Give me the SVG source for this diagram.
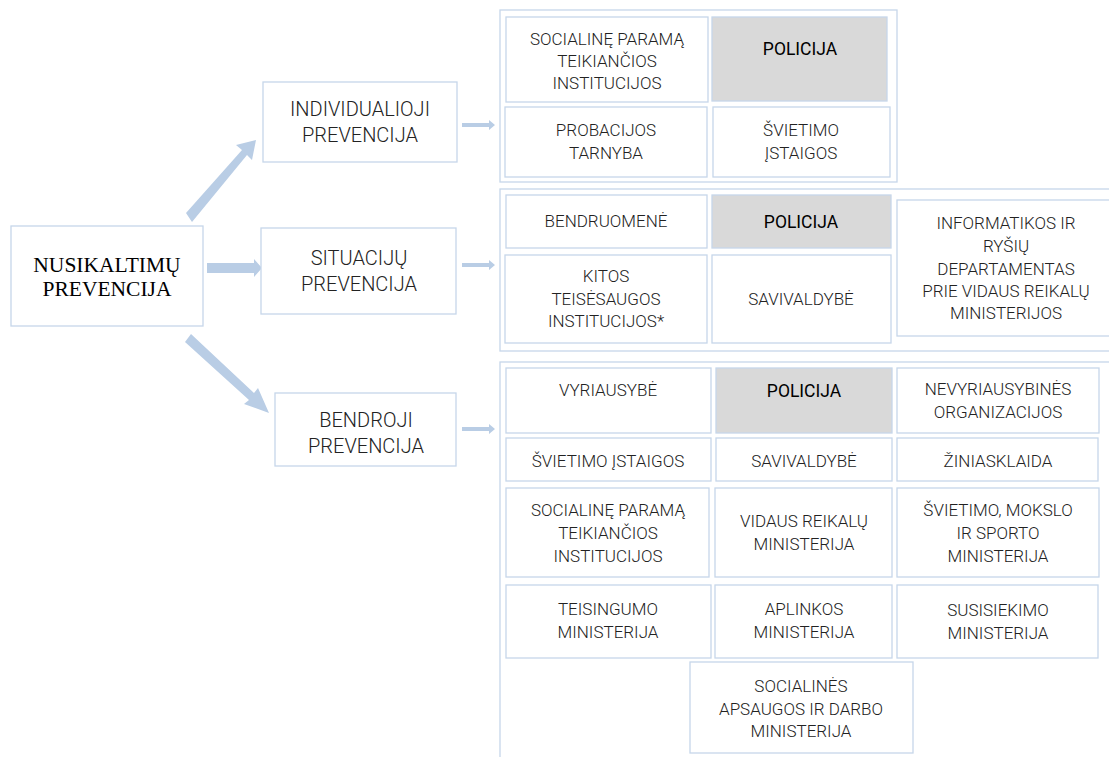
<svg xmlns="http://www.w3.org/2000/svg" width="1109" height="757" viewBox="0 0 1109 757">
<style>
.box{fill:#ffffff;stroke:#c6d6ea;stroke-width:1.3}
.grp{fill:none;stroke:#c6d6ea;stroke-width:1.3}
.gray{fill:#d9d9d9;stroke:#c6d6ea;stroke-width:1.3}
.t{font-family:Roboto,"Noto Sans",sans-serif;font-weight:300;font-size:17px;fill:#222;text-anchor:middle}
.h{font-family:Roboto,"Noto Sans",sans-serif;font-weight:300;font-size:20px;fill:#222;text-anchor:middle}
.p{font-family:Roboto,"Noto Sans",sans-serif;font-weight:400;font-size:17.5px;fill:#000;text-anchor:middle}
.m{font-family:"Liberation Serif","Times New Roman",serif;font-size:21.5px;fill:#000;text-anchor:middle}
.arr{fill:#b9cde5}
</style>
<rect width="1109" height="757" fill="#ffffff"/>

<g id="connectors">
  <polygon class="arr" points="186,213 242,150 236,145 256,140 252,160 247,155 192,222"/>
  <polygon class="arr" points="207,263 254,263 254,259 262,268 254,277 254,273 207,273"/>
  <polygon class="arr" points="191,334 254,393 258,388 269,413 244,404 249,400 185,342"/>
  <polygon class="arr" points="462,123 489,123 489,120 495,125 489,130 489,127 462,127"/>
  <polygon class="arr" points="462,263 489,263 489,260 495,265 489,270 489,267 462,267"/>
  <polygon class="arr" points="462,427 489,427 489,424 495,429 489,434 489,431 462,431"/>
</g>

<g id="nusikaltimu">
  <rect class="box" x="11" y="226" width="192" height="100"/>
  <text class="m" x="107" y="272">NUSIKALTIMŲ</text>
  <text class="m" x="107" y="296">PREVENCIJA</text>
</g>
<g id="individualioji">
  <rect class="box" x="263" y="82" width="194" height="80"/>
  <text class="h" x="360" y="116">INDIVIDUALIOJI</text>
  <text class="h" x="360" y="142">PREVENCIJA</text>
</g>
<g id="situaciju">
  <rect class="box" x="261" y="228" width="195" height="86"/>
  <text class="h" x="359" y="265">SITUACIJŲ</text>
  <text class="h" x="359" y="291">PREVENCIJA</text>
</g>
<g id="bendroji">
  <rect class="box" x="275" y="393" width="181" height="73"/>
  <text class="h" x="366" y="427">BENDROJI</text>
  <text class="h" x="366" y="453">PREVENCIJA</text>
</g>

<g id="grp-individuali">
  <rect class="grp" x="500" y="10" width="397" height="172"/>
  <g id="i-socialine">
    <rect class="box" x="506" y="17" width="202" height="85"/>
    <text class="t" x="607" y="45">SOCIALINĘ PARAMĄ</text>
    <text class="t" x="607" y="67">TEIKIANČIOS</text>
    <text class="t" x="607" y="89">INSTITUCIJOS</text>
  </g>
  <g id="i-policija">
    <rect class="gray" x="712" y="17" width="175" height="84"/>
    <text class="p" x="800" y="55">POLICIJA</text>
  </g>
  <g id="i-probacijos">
    <rect class="box" x="505" y="107" width="202" height="70"/>
    <text class="t" x="606" y="136">PROBACIJOS</text>
    <text class="t" x="606" y="159">TARNYBA</text>
  </g>
  <g id="i-svietimo">
    <rect class="box" x="713" y="107" width="177" height="70"/>
    <text class="t" x="801" y="136">ŠVIETIMO</text>
    <text class="t" x="801" y="159">ĮSTAIGOS</text>
  </g>
</g>

<g id="grp-situaciju">
  <rect class="grp" x="500" y="189" width="615" height="162"/>
  <g id="s-bendruomene">
    <rect class="box" x="506" y="195" width="201" height="53"/>
    <text class="t" x="606" y="227">BENDRUOMENĖ</text>
  </g>
  <g id="s-policija">
    <rect class="gray" x="712" y="195" width="179" height="53"/>
    <text class="p" x="801" y="228">POLICIJA</text>
  </g>
  <g id="s-kitos">
    <rect class="box" x="505" y="255" width="202" height="88"/>
    <text class="t" x="606" y="282">KITOS</text>
    <text class="t" x="606" y="305">TEISĖSAUGOS</text>
    <text class="t" x="606" y="327">INSTITUCIJOS*</text>
  </g>
  <g id="s-savivaldybe">
    <rect class="box" x="712" y="255" width="179" height="88"/>
    <text class="t" x="801" y="305">SAVIVALDYBĖ</text>
  </g>
  <g id="s-informatikos">
    <rect class="box" x="897" y="200" width="220" height="136"/>
    <text class="t" x="1006" y="229">INFORMATIKOS IR</text>
    <text class="t" x="1006" y="252">RYŠIŲ</text>
    <text class="t" x="1006" y="275">DEPARTAMENTAS</text>
    <text class="t" x="1006" y="297">PRIE VIDAUS REIKALŲ</text>
    <text class="t" x="1006" y="319">MINISTERIJOS</text>
  </g>
</g>

<g id="grp-bendroji">
  <rect class="grp" x="500" y="362" width="615" height="400"/>
  <g id="b-vyriausybe">
    <rect class="box" x="506" y="368" width="205" height="65"/>
    <text class="t" x="608" y="396">VYRIAUSYBĖ</text>
  </g>
  <g id="b-policija">
    <rect class="gray" x="716" y="368" width="176" height="65"/>
    <text class="p" x="804" y="397">POLICIJA</text>
  </g>
  <g id="b-nevyriausybines">
    <rect class="box" x="897" y="368" width="202" height="65"/>
    <text class="t" x="998" y="395">NEVYRIAUSYBINĖS</text>
    <text class="t" x="998" y="418">ORGANIZACIJOS</text>
  </g>
  <g id="b-svietimo">
    <rect class="box" x="506" y="438" width="205" height="43"/>
    <text class="t" x="608" y="467">ŠVIETIMO ĮSTAIGOS</text>
  </g>
  <g id="b-savivaldybe">
    <rect class="box" x="716" y="438" width="176" height="43"/>
    <text class="t" x="804" y="467">SAVIVALDYBĖ</text>
  </g>
  <g id="b-ziniasklaida">
    <rect class="box" x="897" y="438" width="201" height="43"/>
    <text class="t" x="998" y="467">ŽINIASKLAIDA</text>
  </g>
  <g id="b-socialine">
    <rect class="box" x="506" y="488" width="203" height="89"/>
    <text class="t" x="608" y="516">SOCIALINĘ PARAMĄ</text>
    <text class="t" x="608" y="539">TEIKIANČIOS</text>
    <text class="t" x="608" y="562">INSTITUCIJOS</text>
  </g>
  <g id="b-vidaus">
    <rect class="box" x="715" y="488" width="177" height="89"/>
    <text class="t" x="804" y="527">VIDAUS REIKALŲ</text>
    <text class="t" x="804" y="550">MINISTERIJA</text>
  </g>
  <g id="b-svietimo-mokslo">
    <rect class="box" x="897" y="488" width="202" height="89"/>
    <text class="t" x="998" y="516">ŠVIETIMO, MOKSLO</text>
    <text class="t" x="998" y="539">IR SPORTO</text>
    <text class="t" x="998" y="562">MINISTERIJA</text>
  </g>
  <g id="b-teisingumo">
    <rect class="box" x="506" y="585" width="205" height="73"/>
    <text class="t" x="608" y="615">TEISINGUMO</text>
    <text class="t" x="608" y="638">MINISTERIJA</text>
  </g>
  <g id="b-aplinkos">
    <rect class="box" x="715" y="585" width="177" height="73"/>
    <text class="t" x="804" y="615">APLINKOS</text>
    <text class="t" x="804" y="638">MINISTERIJA</text>
  </g>
  <g id="b-susisiekimo">
    <rect class="box" x="897" y="585" width="201" height="73"/>
    <text class="t" x="998" y="616">SUSISIEKIMO</text>
    <text class="t" x="998" y="639">MINISTERIJA</text>
  </g>
  <g id="b-socialines">
    <rect class="box" x="690" y="662" width="223" height="91"/>
    <text class="t" x="801" y="692">SOCIALINĖS</text>
    <text class="t" x="801" y="715">APSAUGOS IR DARBO</text>
    <text class="t" x="801" y="737">MINISTERIJA</text>
  </g>
</g>
</svg>
